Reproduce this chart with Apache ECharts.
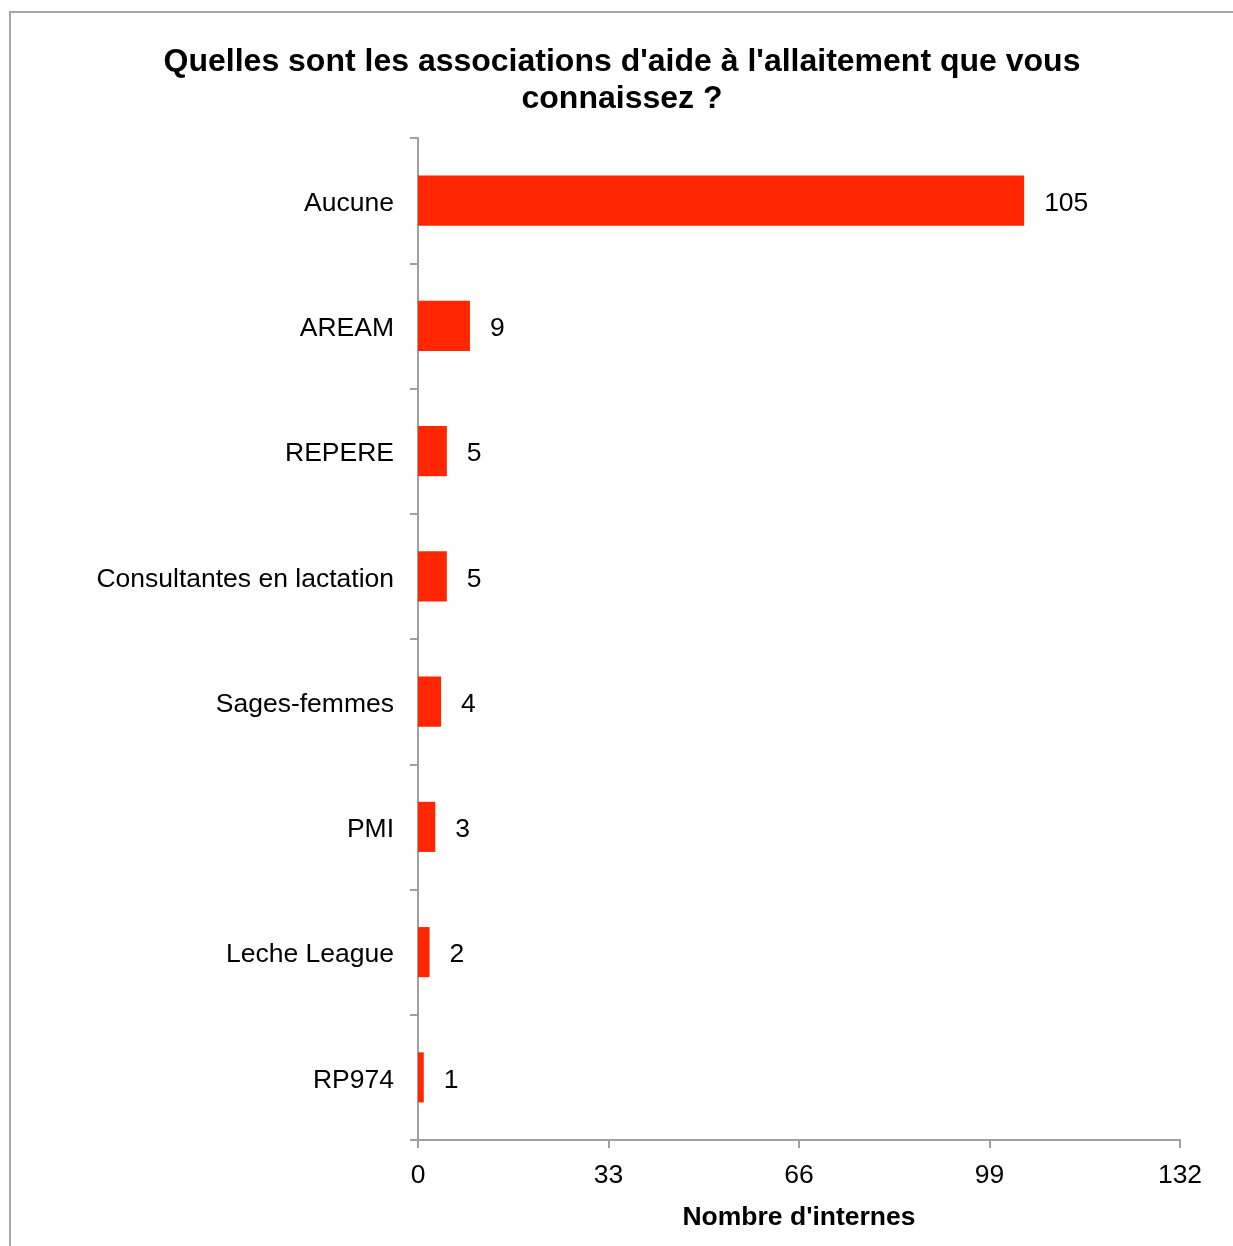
<!DOCTYPE html>
<html><head><meta charset="utf-8">
<script src="https://cdn.jsdelivr.net/npm/echarts@6/dist/echarts.min.js"></script>
<style>html,body{margin:0;padding:0;background:#fff}#c{width:1233px;height:1246px}</style>
</head><body><div id="c"></div>
<script>
const categories = ["Aucune","AREAM","REPERE","Consultantes en lactation","Sages-femmes","PMI","Leche League","RP974"];
const values = [105, 9, 5, 5, 4, 3, 2, 1];
const xTicks = [0, 33, 66, 99, 132];
const titleText = "Quelles sont les associations d'aide à l'allaitement que vous\nconnaissez ?";
const xAxisName = "Nombre d'internes";

const font = '"Liberation Sans", Arial, Helvetica, sans-serif';
const chart = echarts.init(document.getElementById('c'));
chart.setOption({
  backgroundColor: '#fff',
  animation: false,
  textStyle: { fontFamily: font },
  graphic: [{
    type: 'rect', shape: { x: 10, y: 12, width: 1400, height: 1400 },
    style: { fill: 'none', stroke: '#a6a6a6', lineWidth: 2 }, silent: true
  }],
  title: {
    text: titleText, left: 617, top: 39, textAlign: 'center',
    textStyle: { fontFamily: font, fontWeight: 'bold', fontSize: 32, lineHeight: 37, color: '#000' }
  },
  grid: { left: 418, right: 53, top: 138, bottom: 106, containLabel: false },
  xAxis: {
    type: 'value', min: xTicks[0], max: xTicks[xTicks.length-1], interval: 33,
    name: xAxisName, nameLocation: 'middle', nameGap: 64,
    nameTextStyle: { fontFamily: font, fontWeight: 'bold', fontSize: 26.5, color: '#000' },
    axisLine: { show: true, lineStyle: { color: '#a0a0a0', width: 2 } },
    axisTick: { show: true, inside: false, length: 8, lineStyle: { color: '#a0a0a0', width: 2 } },
    axisLabel: { fontFamily: font, fontSize: 26.5, color: '#000', margin: 22 },
    splitLine: { show: false }
  },
  yAxis: {
    type: 'category', data: categories, inverse: true,
    axisLine: { show: true, lineStyle: { color: '#a0a0a0', width: 2 } },
    axisTick: { show: true, inside: false, length: 8, lineStyle: { color: '#a0a0a0', width: 2 } },
    axisLabel: {
      fontFamily: font, fontSize: 26.5, color: '#000', margin: 24,
      formatter: v => '{a|' + v + '}',
      rich: { a: { fontFamily: font, fontSize: 26.5, color: '#000', padding: [6, 0, 0, 0] } }
    },
    splitLine: { show: false }
  },
  series: [{
    type: 'bar', data: values, barWidth: '40%',
    itemStyle: { color: '#ff2600' },
    label: { show: true, position: 'right', distance: 20, offset: [0, 3], fontFamily: font, fontSize: 26.5, color: '#000' }
  }]
});
</script></body></html>
